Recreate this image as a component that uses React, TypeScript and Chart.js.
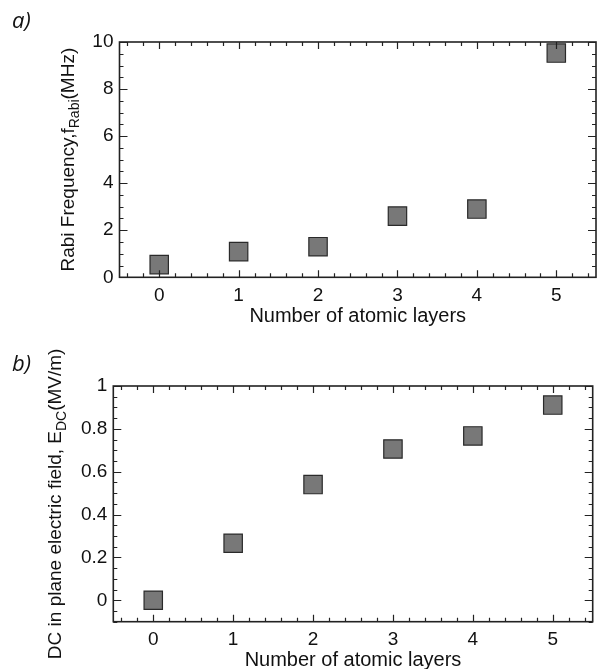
import React, { useEffect, useRef } from 'react';
import { Chart, registerables } from 'chart.js';

Chart.register(...registerables);

// ---------- data ----------
const layers = [0, 1, 2, 3, 4, 5];
const rabiFrequencyMHz = [0.54, 1.09, 1.3, 2.6, 2.9, 9.53];
const dcFieldMVm = [0.0, 0.266, 0.54, 0.706, 0.767, 0.911];

const xTickValues = [0, 1, 2, 3, 4, 5];
const rabiTickValues = [0, 2, 4, 6, 8, 10];
const rabiTickLabels = ['0', '2', '4', '6', '8', '10'];
const dcTickValues = [0, 0.2, 0.4, 0.6, 0.8, 1];
const dcTickLabels = ['0', '0.2', '0.4', '0.6', '0.8', '1'];

const xTitleText = 'Number of atomic layers';
const rabiTitleParts = [
  { text: 'Rabi Frequency,f', sub: false },
  { text: 'Rabi', sub: true },
  { text: '(MHz)', sub: false },
];
const dcTitleParts = [
  { text: 'DC in plane electric field, E', sub: false },
  { text: 'DC', sub: true },
  { text: '(MV/m)', sub: false },
];

const FONT = '"Liberation Sans", Arial, sans-serif';
const INK = '#111111';

// ---------- plugins ----------
const framePlugin = {
  id: 'frame',
  afterDraw(chart: any, _args: any, opts: any) {
    const { ctx, chartArea, scales } = chart;
    const { left, right, top, bottom } = chartArea;
    const xs = scales.x;
    const ys = scales.y;
    ctx.save();
    ctx.strokeStyle = '#222222';
    ctx.lineWidth = 1.2;
    const majLen = 7;
    const minLen = 4;
    const xMaj = xs.ticks.map((t: any) => t.value);
    const yMaj = ys.ticks.map((t: any) => t.value);
    const isMajor = (arr: number[], v: number) => arr.some((m) => Math.abs(m - v) < 1e-6);
    ctx.beginPath();
    const xStart = Math.ceil((xs.min - 1e-9) / opts.xMinorStep) * opts.xMinorStep;
    for (let v = xStart; v <= xs.max + 1e-9; v += opts.xMinorStep) {
      const px = Math.round(xs.getPixelForValue(v)) + 0.5;
      const len = isMajor(xMaj, v) ? majLen : minLen;
      ctx.moveTo(px, bottom);
      ctx.lineTo(px, bottom - len);
      ctx.moveTo(px, top);
      ctx.lineTo(px, top + len);
    }
    const yStart = Math.ceil((ys.min - 1e-9) / opts.yMinorStep) * opts.yMinorStep;
    for (let v = yStart; v <= ys.max + 1e-9; v += opts.yMinorStep) {
      const py = Math.round(ys.getPixelForValue(v)) + 0.5;
      const len = isMajor(yMaj, v) ? majLen + 1 : minLen;
      ctx.moveTo(left, py);
      ctx.lineTo(left + len, py);
      ctx.moveTo(right, py);
      ctx.lineTo(right - len, py);
    }
    ctx.stroke();
    ctx.lineWidth = 1.6;
    ctx.strokeRect(left, top, right - left, bottom - top);
    ctx.restore();
  },
};

const yTitlePlugin = {
  id: 'ytitle',
  afterDraw(chart: any, _args: any, opts: any) {
    const { ctx, chartArea } = chart;
    const cy = (chartArea.top + chartArea.bottom) / 2;
    const size = opts.size;
    const mainFont = `${size}px ${FONT}`;
    const subFont = `${Math.round(size * 0.72)}px ${FONT}`;
    ctx.save();
    ctx.translate(opts.baselineX, cy);
    ctx.rotate(-Math.PI / 2);
    ctx.fillStyle = INK;
    ctx.textBaseline = 'alphabetic';
    ctx.textAlign = 'left';
    const widths = opts.parts.map((p: any) => {
      ctx.font = p.sub ? subFont : mainFont;
      return ctx.measureText(p.text).width;
    });
    const total = widths.reduce((a: number, b: number) => a + b, 0);
    let x = -total / 2;
    opts.parts.forEach((p: any, i: number) => {
      ctx.font = p.sub ? subFont : mainFont;
      ctx.fillText(p.text, x, p.sub ? size * 0.27 : 0);
      x += widths[i];
    });
    ctx.restore();
  },
};

function makeConfig(p: {
  values: number[];
  yMin: number;
  yMax: number;
  yTicks: number[];
  yLabels: string[];
  yMinorStep: number;
  padTop: number;
  padRight: number;
  yWidth: number;
  xHeight: number;
  titlePadBottom: number;
  titleParts: any[];
  baselineX: number;
}) {
  return {
    type: 'scatter' as const,
    data: {
      datasets: [
        {
          data: layers.map((x, i) => ({ x, y: p.values[i] })),
          pointStyle: 'rect',
          pointRadius: 13,
          pointHoverRadius: 13,
          backgroundColor: '#787878',
          borderColor: '#2a2a2a',
          borderWidth: 1.2,
          clip: false,
        },
      ],
    },
    options: {
      responsive: false,
      animation: false,
      devicePixelRatio: 1,
      events: [],
      layout: { autoPadding: false, padding: { top: p.padTop, right: p.padRight, left: 0, bottom: 0 } },
      plugins: {
        legend: { display: false },
        tooltip: { enabled: false },
        frame: { xMinorStep: 0.2, yMinorStep: p.yMinorStep },
        ytitle: { parts: p.titleParts, baselineX: p.baselineX, size: 19 },
      },
      scales: {
        x: {
          type: 'linear',
          min: -0.5,
          max: 5.5,
          grid: { display: false, drawTicks: false },
          border: { display: false },
          afterBuildTicks: (s: any) => {
            s.ticks = xTickValues.map((v) => ({ value: v }));
          },
          afterFit: (s: any) => {
            s.height = p.xHeight;
            s.paddingLeft = 0;
            s.paddingRight = 0;
          },
          ticks: {
            autoSkip: false,
            maxRotation: 0,
            padding: 7,
            color: INK,
            font: { family: FONT, size: 19 },
            callback: (v: any) => String(v),
          },
          title: {
            display: true,
            text: xTitleText,
            color: INK,
            font: { family: FONT, size: 20 },
            padding: { top: 0, bottom: p.titlePadBottom },
          },
        },
        y: {
          type: 'linear',
          min: p.yMin,
          max: p.yMax,
          grid: { display: false, drawTicks: false },
          border: { display: false },
          afterBuildTicks: (s: any) => {
            s.ticks = p.yTicks.map((v) => ({ value: v }));
          },
          afterFit: (s: any) => {
            s.width = p.yWidth;
            s.paddingTop = 0;
            s.paddingBottom = 0;
          },
          ticks: {
            autoSkip: false,
            padding: 6,
            color: INK,
            font: { family: FONT, size: 19 },
            callback: (_v: any, i: number) => p.yLabels[i],
          },
        },
      },
    },
    plugins: [framePlugin, yTitlePlugin],
  };
}

export default function App() {
  const refA = useRef<HTMLCanvasElement>(null);
  const refB = useRef<HTMLCanvasElement>(null);

  useEffect(() => {
    const a = new Chart(
      refA.current as HTMLCanvasElement,
      makeConfig({
        values: rabiFrequencyMHz,
        yMin: 0,
        yMax: 10,
        yTicks: rabiTickValues,
        yLabels: rabiTickLabels,
        yMinorStep: 0.5,
        padTop: 42,
        padRight: 1,
        yWidth: 119.5,
        xHeight: 330 - 277.3,
        titlePadBottom: 1.5,
        titleParts: rabiTitleParts,
        baselineX: 74,
      }) as any
    );
    const b = new Chart(
      refB.current as HTMLCanvasElement,
      makeConfig({
        values: dcFieldMVm,
        yMin: -0.1,
        yMax: 1,
        yTicks: dcTickValues,
        yLabels: dcTickLabels,
        yMinorStep: 0.05,
        padTop: 56,
        padRight: 4.3,
        yWidth: 113.3,
        xHeight: 345 - 291.7,
        titlePadBottom: 2.7,
        titleParts: dcTitleParts,
        baselineX: 60.5,
      }) as any
    );
    return () => {
      a.destroy();
      b.destroy();
    };
  }, []);

  const labelStyle: React.CSSProperties = {
    position: 'absolute',
    left: 12,
    fontFamily: '"Open Sans", sans-serif',
    fontStyle: 'italic',
    fontSize: 22,
    lineHeight: '26px',
    color: INK,
  };

  return (
    <div
      style={{
        position: 'absolute',
        left: 0,
        top: 0,
        width: 597,
        height: 669,
        overflow: 'hidden',
        background: '#ffffff',
      }}
    >
      <canvas ref={refA} width={597} height={330} style={{ position: 'absolute', left: 0, top: 0 }} />
      <canvas ref={refB} width={597} height={345} style={{ position: 'absolute', left: 0, top: 330 }} />
      <div style={{ ...labelStyle, top: 6 }}>a)</div>
      <div style={{ ...labelStyle, top: 349 }}>b)</div>
    </div>
  );
}
